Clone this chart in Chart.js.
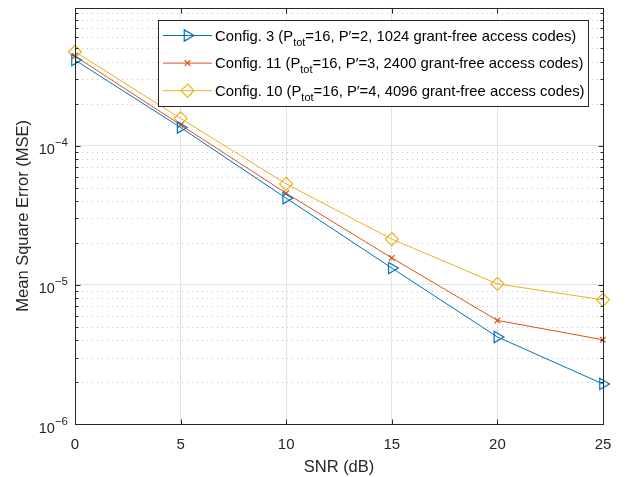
<!DOCTYPE html>
<html>
<head>
<meta charset="utf-8">
<script src="https://cdn.jsdelivr.net/npm/chart.js@4.4.0/dist/chart.umd.min.js"></script>
<style>
  html, body { margin: 0; padding: 0; background: #fff; }
  #wrap { width: 630px; height: 477px; }
</style>
</head>
<body>
<div id="wrap"><canvas id="myChart"></canvas></div>
<script>
// values
const snr = [0, 5, 10, 15, 20, 25];
const mseConfig3 = [4.12e-4, 1.35e-4, 4.19e-5, 1.32e-5, 4.22e-6, 1.94e-6];
const mseConfig11 = [4.40e-4, 1.41e-4, 4.55e-5, 1.56e-5, 5.55e-6, 4.03e-6];
const mseConfig10 = [4.73e-4, 1.57e-4, 5.31e-5, 2.13e-5, 1.016e-5, 7.8e-6];

const xTicks = [0, 5, 10, 15, 20, 25];
const yDecades = [1e-6, 1e-5, 1e-4];
const yMin = 1e-6, yMax = 9.8e-4;

const configNames = ['Config. 3', 'Config. 11', 'Config. 10'];
const pTot = 16;
const pPrime = [2, 3, 4];
const codes = [1024, 2400, 4096];

const FONT = '"Liberation Sans", Arial, Helvetica, sans-serif';
const blue = '#0072BD', orange = '#D95319', yellow = '#EDB120';

function pts(ys) {
    return snr.map((x, i) => ({ x: x, y: ys[i] }));
}

let ds3 = {
    label: configNames[0],
    data: pts(mseConfig3),
    borderColor: blue,
    backgroundColor: 'rgba(0,0,0,0)',
    pointStyle: 'triangle',
    rotation: 90,
    radius: 6.5,
    borderWidth: 1,
    pointBorderWidth: 1.2,
    clip: false
};
let ds11 = {
    label: configNames[1],
    data: pts(mseConfig11),
    borderColor: orange,
    backgroundColor: 'rgba(0,0,0,0)',
    pointStyle: 'crossRot',
    radius: 4,
    borderWidth: 1,
    pointBorderWidth: 1.2,
    clip: false
};
let ds10 = {
    label: configNames[2],
    data: pts(mseConfig10),
    borderColor: yellow,
    backgroundColor: 'rgba(0,0,0,0)',
    pointStyle: 'rectRot',
    radius: 6.5,
    borderWidth: 1,
    pointBorderWidth: 1.2,
    clip: false
};
const datasets = [ds3, ds11, ds10];

function isDecade(v) {
    const l = Math.log10(v);
    return Math.abs(l - Math.round(l)) < 1e-9;
}

// box, minor grid, inner ticks, y labels with superscripts
const axesDeco = {
    id: 'axesDeco',
    beforeDatasetsDraw(chart) {
        const ctx = chart.ctx;
        const a = chart.chartArea;
        const ys = chart.scales.y;
        ctx.save();
        // minor dotted grid
        ctx.strokeStyle = '#c4c4c4';
        ctx.lineWidth = 1;
        ctx.setLineDash([1, 4]);
        for (const d of yDecades.concat([1e-3])) {
            for (let m = 2; m <= 9; m++) {
                const v = m * d / 10;
                if (v <= yMin || v >= yMax) continue;
                const py = Math.round(ys.getPixelForValue(v)) + 0.5;
                ctx.beginPath();
                ctx.moveTo(a.left + 2, py);
                ctx.lineTo(a.right, py);
                ctx.stroke();
            }
        }
        ctx.setLineDash([]);
        ctx.restore();
    },
    afterDatasetsDraw(chart) {
        const ctx = chart.ctx;
        const a = chart.chartArea;
        const ys = chart.scales.y, xs = chart.scales.x;
        ctx.save();
        ctx.strokeStyle = '#262626';
        ctx.lineWidth = 1;
        const L = Math.round(a.left) + 0.5, R = Math.round(a.right) + 0.5;
        const T = Math.round(a.top) + 0.5, B = Math.round(a.bottom) + 0.5;
        ctx.strokeRect(L, T, R - L, B - T);
        ctx.beginPath();
        // y ticks inside
        for (const d of yDecades.concat([1e-3])) {
            for (let m = 1; m <= 9; m++) {
                const v = m * d / 10;
                if (v < yMin || v > yMax) continue;
                const py = Math.round(ys.getPixelForValue(v)) + 0.5;
                const len = m === 1 ? 5 : 3;
                ctx.moveTo(L, py); ctx.lineTo(L + len, py);
                ctx.moveTo(R, py); ctx.lineTo(R - len, py);
            }
        }
        for (const t of xTicks) {
            const px = Math.round(xs.getPixelForValue(t)) + 0.5;
            ctx.moveTo(px, B); ctx.lineTo(px, B - 5);
            ctx.moveTo(px, T); ctx.lineTo(px, T + 5);
        }
        ctx.stroke();

        // y labels 10^n
        ctx.fillStyle = '#262626';
        ctx.textBaseline = 'alphabetic';
        for (const d of yDecades) {
            const py = ys.getPixelForValue(d);
            const e = '\u2212' + String(-Math.round(Math.log10(d)));
            ctx.font = '11.5px ' + FONT;
            const ew = ctx.measureText(e).width;
            ctx.textAlign = 'right';
            ctx.fillText(e, 68, py + 0.5);
            ctx.font = '14.5px ' + FONT;
            ctx.fillText('10', 68 - ew, py + 8.5);
        }
        ctx.restore();
    }
};

// legend box drawn inside the axes
const legendBox = {
    id: 'legendBox',
    afterDraw(chart) {
        const ctx = chart.ctx;
        const x0 = 158.5, y0 = 20.5, w = 430, h = 86;
        ctx.save();
        ctx.fillStyle = '#fff';
        ctx.fillRect(x0, y0, w, h);
        ctx.strokeStyle = '#262626';
        ctx.lineWidth = 1;
        ctx.strokeRect(x0, y0, w, h);
        datasets.forEach((ds, i) => {
            const cy = 35.5 + i * 27.6;
            ctx.strokeStyle = ds.borderColor;
            ctx.fillStyle = 'rgba(0,0,0,0)';
            ctx.lineWidth = 1;
            ctx.beginPath();
            ctx.moveTo(163, cy);
            ctx.lineTo(212, cy);
            ctx.stroke();
            ctx.lineWidth = ds.pointBorderWidth;
            Chart.helpers.drawPoint(ctx, {
                pointStyle: ds.pointStyle,
                rotation: ds.rotation || 0,
                radius: ds.radius,
                borderWidth: ds.pointBorderWidth
            }, 187.5, cy);

            ctx.fillStyle = '#000';
            ctx.textAlign = 'left';
            ctx.textBaseline = 'alphabetic';
            let tx = 215;
            const base = cy + 5;
            ctx.font = '14.8px ' + FONT;
            const s1 = configNames[i] + ' (P';
            ctx.fillText(s1, tx, base);
            tx += ctx.measureText(s1).width;
            ctx.font = '11px ' + FONT;
            ctx.fillText('tot', tx, base + 5);
            tx += ctx.measureText('tot').width;
            ctx.font = '14.8px ' + FONT;
            const s2 = '=' + pTot + ', P\u2032=' + pPrime[i] + ', ' + codes[i] + ' grant-free access codes)';
            ctx.fillText(s2, tx, base);
        });
        ctx.restore();
    }
};

let config = {
    type: 'line',
    data: { datasets: datasets },
    options: {
        responsive: false,
        animation: false,
        devicePixelRatio: 1,
        layout: { padding: { left: 0, right: 27, top: 7, bottom: 0 } },
        plugins: {
            legend: { display: false },
            tooltip: { enabled: false }
        },
        scales: {
            x: {
                type: 'linear',
                min: 0,
                max: 25,
                afterFit: s => { s.height = 53; },
                afterBuildTicks: s => { s.ticks = xTicks.map(v => ({ value: v })); },
                grid: { color: '#e3e3e3', drawTicks: false },
                border: { display: false },
                ticks: {
                    color: '#262626',
                    font: { family: FONT, size: 15 },
                    padding: 12,
                    maxRotation: 0
                },
                title: {
                    display: true,
                    text: 'SNR (dB)',
                    color: '#262626',
                    font: { family: FONT, size: 16.5 },
                    padding: { top: 0, bottom: 0 }
                }
            },
            y: {
                type: 'logarithmic',
                min: yMin,
                max: yMax,
                afterFit: s => { s.width = 75; },
                grid: {
                    color: c => (c.tick && isDecade(c.tick.value) ? '#e3e3e3' : 'rgba(0,0,0,0)'),
                    drawTicks: false
                },
                border: { display: false },
                ticks: { display: false },
                title: {
                    display: true,
                    text: 'Mean Square Error (MSE)',
                    color: '#262626',
                    font: { family: FONT, size: 16.5 },
                    padding: { top: 14, bottom: 0 }
                }
            }
        }
    },
    plugins: [axesDeco, legendBox]
};

const canvas = document.getElementById('myChart');
canvas.width = 630;
canvas.height = 477;
let myChart = new Chart(canvas, config);
</script>
</body>
</html>
